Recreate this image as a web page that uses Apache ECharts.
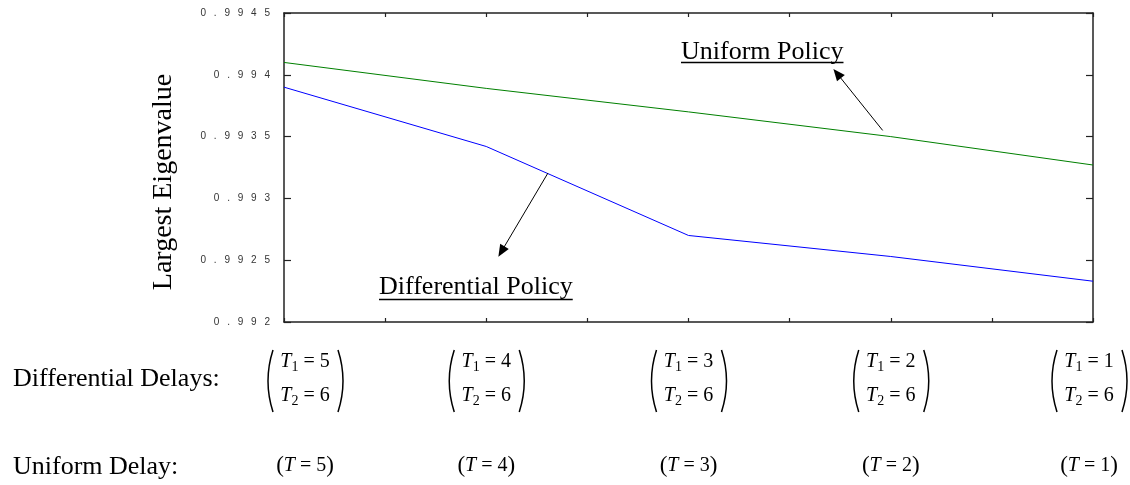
<!DOCTYPE html>
<html>
<head>
<meta charset="utf-8">
<script src="https://cdn.jsdelivr.net/npm/echarts@6/dist/echarts.min.js"></script>
<style>
html,body{margin:0;padding:0;background:#fff;}
#chart{width:1130px;height:485px;}
</style>
</head>
<body>
<div id="chart"></div>
<script>
// ---- data ----
const delays = [5, 4, 3, 2, 1];                 // T1 (differential) and T (uniform)
const t2Delays = [6, 6, 6, 6, 6];               // T2 (differential)
const uniformPolicy = [0.9941, 0.99389, 0.9937, 0.9935, 0.99327];
const differentialPolicy = [0.9939, 0.99342, 0.9927, 0.99253, 0.99233];
const yMin = 0.992, yMax = 0.9945, yStep = 0.0005;
const xMin = 1, xMax = 5, xStep = 0.5;
const uniformArrow = [[2.04, 0.99355], [2.265, 0.99401]];
const differentialArrow = [[3.695, 0.993205], [3.925, 0.99257]];

const serif = 'Liberation Serif, "Times New Roman", serif';
const sans = 'Liberation Sans, Arial, sans-serif';

function spaced(v) {
  return String(Number(v.toFixed(4))).split('').join('\u2002 ');
}
function measure(text, size) {
  const c = document.createElement('canvas').getContext('2d');
  c.font = size + 'px ' + serif;
  return c.measureText(text).width;
}

const chart = echarts.init(document.getElementById('chart'), null, {renderer: 'canvas'});

const axisLine = {show: true, lineStyle: {color: '#222', width: 1.5}};
const xAxisBase = {
  type: 'value', min: xMin, max: xMax, interval: xStep, inverse: true,
  axisLine: axisLine,
  axisTick: {show: true, inside: true, length: 4, lineStyle: {color: '#222', width: 1.2}},
  axisLabel: {show: false}, splitLine: {show: false}
};
const yAxisBase = {
  type: 'value', min: yMin, max: yMax, interval: yStep,
  axisLine: axisLine,
  axisTick: {show: true, inside: true, length: 7, lineStyle: {color: '#222', width: 1.2}},
  splitLine: {show: false}
};

const richRow = {
  i: {fontFamily: serif, fontStyle: 'italic', fontSize: 20, lineHeight: 24, verticalAlign: 'middle', color: '#000'},
  s: {fontFamily: serif, fontSize: 14, lineHeight: 12, verticalAlign: 'bottom', color: '#000'},
  n: {fontFamily: serif, fontSize: 20, lineHeight: 24, verticalAlign: 'middle', color: '#000'},
  p: {fontFamily: serif, fontSize: 23, lineHeight: 24, verticalAlign: 'middle', color: '#000'}
};

// layout limits so the bracket labels stay clear of the row titles / page edge
const labelMinCenter = 305, labelMaxCenter = 1089;

const labelData = delays.map((d, i) => [d, yMin, t2Delays[i]]);

const option = {
  backgroundColor: '#fff',
  animation: false,
  grid: {left: 284, right: 37, top: 13, bottom: 163, containLabel: false},
  xAxis: [
    Object.assign({position: 'bottom'}, xAxisBase),
    Object.assign({position: 'top'}, xAxisBase)
  ],
  yAxis: [
    Object.assign({position: 'left', axisLabel: {show: true, margin: 14, fontFamily: sans, fontSize: 10, color: '#333', formatter: spaced}}, yAxisBase),
    Object.assign({position: 'right', axisLabel: {show: false}}, yAxisBase)
  ],
  series: [
    {
      name: 'Uniform Policy', type: 'line', xAxisIndex: 0, yAxisIndex: 0,
      data: delays.map((d, i) => [d, uniformPolicy[i]]),
      showSymbol: false, symbol: 'none',
      lineStyle: {color: '#008000', width: 1},
      markLine: {
        silent: true, symbol: ['none', 'triangle'], symbolSize: [10, 12],
        label: {show: false},
        lineStyle: {color: '#000', width: 1, type: 'solid'},
        itemStyle: {color: '#000'},
        data: [
          [{coord: uniformArrow[0]}, {coord: uniformArrow[1]}],
          [{coord: differentialArrow[0]}, {coord: differentialArrow[1]}]
        ]
      }
    },
    {
      name: 'Differential Policy', type: 'line', xAxisIndex: 0, yAxisIndex: 0,
      data: delays.map((d, i) => [d, differentialPolicy[i]]),
      showSymbol: false, symbol: 'none',
      lineStyle: {color: '#0000ff', width: 1}
    },
    {
      name: 'delay labels', type: 'custom', xAxisIndex: 0, yAxisIndex: 0,
      clip: false, silent: true, z: 5,
      data: labelData,
      renderItem: function (params, api) {
        const p = api.coord([api.value(0), api.value(1)]);
        const cx = Math.min(Math.max(p[0], labelMinCenter), labelMaxCenter);
        const y0 = p[1];
        const t1 = api.value(0), t2 = api.value(2);
        const parenStyle = {stroke: '#000', lineWidth: 1.5, fill: 'none'};
        return {
          type: 'group',
          children: [
            {type: 'bezierCurve', shape: {x1: cx - 32, y1: y0 + 28, x2: cx - 32, y2: y0 + 90, cpx1: cx - 42, cpy1: y0 + 59}, style: parenStyle},
            {type: 'bezierCurve', shape: {x1: cx + 33, y1: y0 + 28, x2: cx + 33, y2: y0 + 90, cpx1: cx + 43, cpy1: y0 + 59}, style: parenStyle},
            {type: 'text', style: {text: '{i|T}{s|1}{n| = ' + t1 + '}', rich: richRow, x: cx, y: y0 + 40, align: 'center', verticalAlign: 'middle'}},
            {type: 'text', style: {text: '{i|T}{s|2}{n| = ' + t2 + '}', rich: richRow, x: cx, y: y0 + 74, align: 'center', verticalAlign: 'middle'}},
            {type: 'text', style: {text: '{p|(}{i|T}{n| = ' + t1 + '}{p|)}', rich: richRow, x: cx, y: y0 + 144, align: 'center', verticalAlign: 'middle'}}
          ]
        };
      }
    }
  ]
};

const upW = measure('Uniform Policy', 26);
const dpW = measure('Differential Policy', 26);
option.graphic = [
  {type: 'text', x: 164, y: 182, rotation: Math.PI / 2,
   style: {text: 'Largest Eigenvalue', fontFamily: serif, fontSize: 28, fill: '#000', align: 'center', verticalAlign: 'middle'}},
  {type: 'text', x: 13, y: 379,
   style: {text: 'Differential Delays:', fontFamily: serif, fontSize: 26, fill: '#000', align: 'left', verticalAlign: 'middle'}},
  {type: 'text', x: 13, y: 467,
   style: {text: 'Uniform Delay:', fontFamily: serif, fontSize: 26, fill: '#000', align: 'left', verticalAlign: 'middle'}},
  {type: 'text', x: 681, y: 52,
   style: {text: 'Uniform Policy', fontFamily: serif, fontSize: 26, fill: '#000', align: 'left', verticalAlign: 'middle'}},
  {type: 'line', shape: {x1: 681, y1: 62.5, x2: 681 + upW, y2: 62.5}, style: {stroke: '#000', lineWidth: 1.5}},
  {type: 'text', x: 379, y: 287,
   style: {text: 'Differential Policy', fontFamily: serif, fontSize: 26, fill: '#000', align: 'left', verticalAlign: 'middle'}},
  {type: 'line', shape: {x1: 379, y1: 299.5, x2: 379 + dpW, y2: 299.5}, style: {stroke: '#000', lineWidth: 1.5}}
];

chart.setOption(option);
</script>
</body>
</html>
